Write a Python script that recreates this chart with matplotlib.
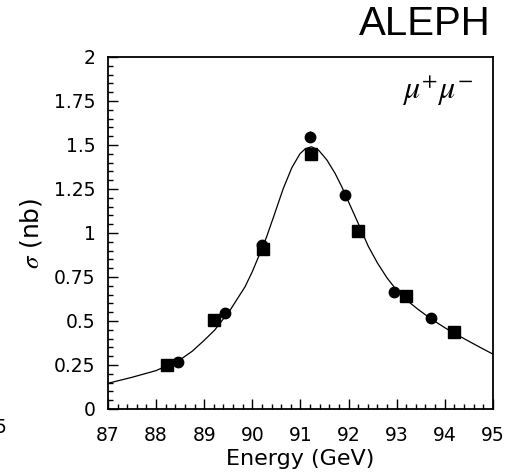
"""
ALEPH mu+mu- cross section around the Z pole.
Two data sets (circles, squares) plus the fitted lineshape.
"""
import matplotlib
matplotlib.use("Agg")
import matplotlib.pyplot as plt
import matplotlib.ticker as mticker

plt.rcParams["font.family"] = ["DejaVu Sans"]
plt.rcParams["mathtext.fontset"] = "stix"

# data set 1 (circles)
circ_e = [88.46, 89.43, 90.20, 91.20, 91.93, 92.95, 93.71]
circ_s = [0.268, 0.545, 0.930, 1.547, 1.216, 0.665, 0.515]
circ_err = [0.015, 0.02, 0.03, 0.03, 0.03, 0.025, 0.02]

# data set 2 (squares)
sq_e = [88.22, 89.20, 90.22, 91.21, 92.20, 93.20, 94.20]
sq_s = [0.250, 0.505, 0.910, 1.450, 1.010, 0.640, 0.440]
sq_err = [0.015, 0.02, 0.03, 0.035, 0.03, 0.025, 0.02]

# fitted lineshape
fit_e = [87.0, 87.5, 88.0, 88.5, 88.75, 89.0, 89.22, 89.54, 89.85, 90.0,
         90.16, 90.30, 90.44, 90.64, 90.82, 90.99, 91.10, 91.23, 91.38, 91.55,
         91.72, 91.86, 92.03, 92.17, 92.41, 92.60, 92.80, 93.00, 93.20, 93.45,
         93.70, 94.00, 94.20, 94.50, 94.75, 95.00]
fit_s = [0.146, 0.180, 0.218, 0.280, 0.328, 0.390, 0.449, 0.562, 0.695, 0.780,
         0.885, 0.980, 1.090, 1.250, 1.370, 1.450, 1.478, 1.490, 1.470, 1.415,
         1.339, 1.263, 1.159, 1.074, 0.925, 0.830, 0.745, 0.675, 0.620, 0.565,
         0.515, 0.462, 0.430, 0.385, 0.348, 0.312]

fig = plt.figure(figsize=(5.06, 4.75), dpi=100)
ax = fig.add_axes([0.2134, 0.139, 0.7606, 0.741])

ax.plot(fit_e, fit_s, color="black", linewidth=0.9)
ax.errorbar(sq_e, sq_s, yerr=sq_err, fmt="s", color="black", markersize=8,
            elinewidth=1.0, capsize=0)
ax.errorbar(circ_e, circ_s, yerr=circ_err, fmt="o", color="black", markersize=7.5,
            elinewidth=1.0, capsize=0)

ax.set_xlim(87, 95)
ax.set_ylim(0, 2)
ax.xaxis.set_major_locator(mticker.MultipleLocator(1))
ax.xaxis.set_minor_locator(mticker.MultipleLocator(0.2))
ax.yaxis.set_major_locator(mticker.MultipleLocator(0.25))
ax.yaxis.set_minor_locator(mticker.MultipleLocator(0.05))
ax.yaxis.set_major_formatter(mticker.FuncFormatter(lambda v, p: f"{v:g}"))

ax.tick_params(which="both", direction="in", top=False, right=False,
               labelsize=13.5, width=1.0)
ax.tick_params(axis="y", which="major", length=7, pad=9)
ax.tick_params(axis="x", which="major", length=7, pad=12)
ax.tick_params(which="minor", length=3.6)
for sp in ax.spines.values():
    sp.set_linewidth(1.3)

ax.set_xlabel("Energy (GeV)", fontsize=16, labelpad=3)
ax.set_ylabel(r"$\sigma$ (nb)", fontsize=18)
ax.yaxis.set_label_coords(-0.165, 0.5)

ax.text(0.948, 0.905, r"$\mu^{+}\mu^{-}$", transform=ax.transAxes,
        ha="right", va="center", fontsize=23)
fig.text(0.97, 0.95, "ALEPH", ha="right", va="center", fontsize=29,
         family="Liberation Sans")
fig.text(0.0, 0.10, "5", ha="center", va="center", fontsize=13.5)

fig.savefig("out.png", dpi=100)
